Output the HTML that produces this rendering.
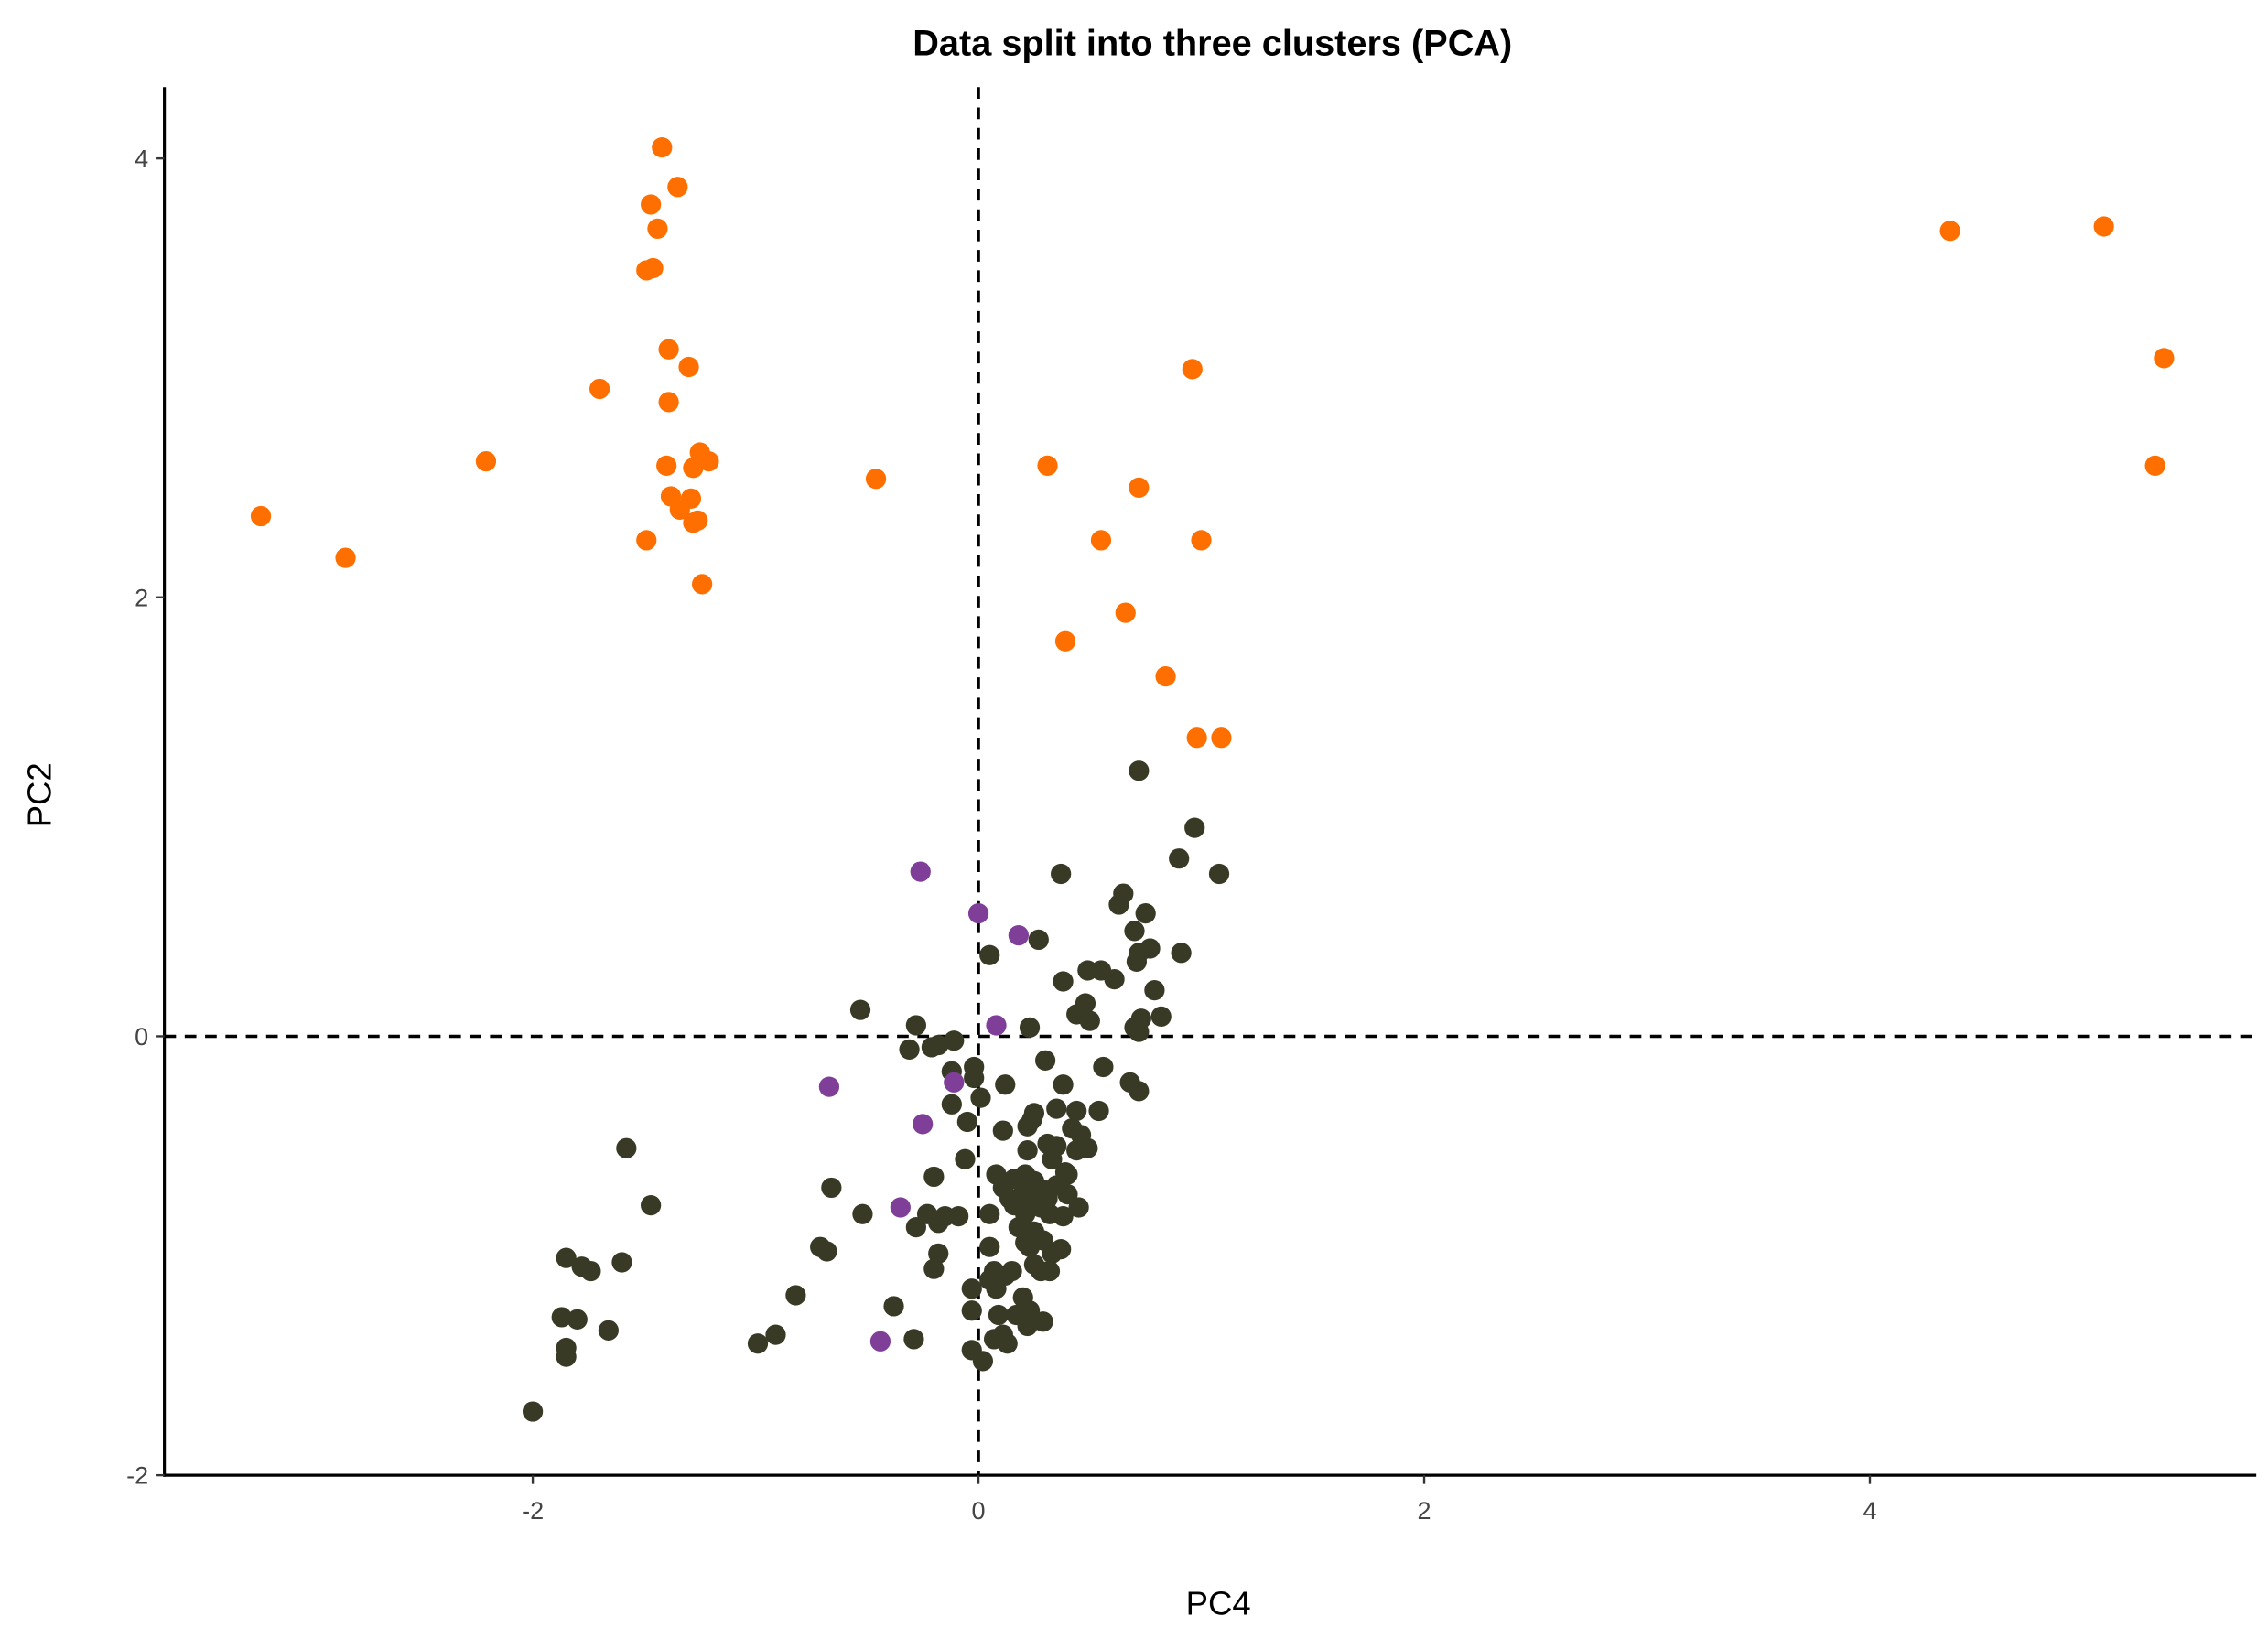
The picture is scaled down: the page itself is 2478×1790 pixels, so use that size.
<!DOCTYPE html>
<html><head><meta charset="utf-8"><style>
html,body{margin:0;padding:0;background:#fff;}
svg{display:block;}
text{font-family:"Liberation Sans",sans-serif;}
</style></head><body>
<svg id="chart" width="2478" height="1790" viewBox="0 0 1560 1127" xmlns="http://www.w3.org/2000/svg">
<rect width="1560" height="1127" fill="#fff"/>
<text x="834" y="38" text-anchor="middle" font-size="25" font-weight="bold">Data split into three clusters (PCA)</text>
<text x="838" y="1111" text-anchor="middle" font-size="23">PC4</text>
<text transform="translate(35,547) rotate(-90)" text-anchor="middle" font-size="23">PC2</text>
<g id="refs"></g><g id="axes"></g><g id="pts"></g>
</svg>
<script>
const xTicks=[-2,0,2,4];
const yTicks=[-2,0,2,4];
const orangeX=[-1.42,-1.35,-1.47,-1.44,-1.49,-1.46,-1.39,-1.30,-1.70,-1.39,-2.21,-1.40,-1.25,-1.21,-1.28,-1.38,-1.29,-1.34,-1.26,-1.28,-1.49,-1.24,-3.22,-2.84,-0.46,0.31,0.72,0.96,0.55,1.00,0.39,0.66,0.84,0.98,1.09,4.36,5.05,5.32,5.28];
const orangeY=[4.05,3.87,3.79,3.68,3.49,3.50,3.13,3.05,2.95,2.89,2.62,2.60,2.66,2.62,2.59,2.46,2.45,2.40,2.35,2.34,2.26,2.06,2.37,2.18,2.54,2.60,2.50,3.04,2.26,2.26,1.80,1.93,1.64,1.36,1.36,3.67,3.69,3.09,2.60];
const purpleX=[-0.26,0,0.18,0.08,-0.67,-0.11,-0.25,-0.35,-0.44];
const purpleY=[0.75,0.56,0.46,0.05,-0.23,-0.21,-0.40,-0.78,-1.39];
const darkX=[0.72,0.97,0.37,1.08,0.90,0.65,0.63,0.75,0.70,0.27,0.05,0.91,0.77,0.72,0.71,0.49,0.55,0.61,0.38,0.79,-0.53,0.48,0.44,0.50,0.82,0.73,0.70,0.72,-0.28,0.23,-0.11,-0.18,-0.21,-0.31,0.30,-0.02,0.56,-0.12,-0.02,0.12,0.38,0.68,0.72,0.01,-0.12,0.25,0.35,0.44,0.54,0.24,0.22,-0.05,0.11,0.42,0.46,0.31,0.35,0.22,0.44,0.49,0.33,-0.06,0.39,0.40,-0.20,0.08,0.16,0.21,0.25,0.29,0.35,-0.66,0.11,0.14,0.31,0.20,0.24,0.40,0.16,0.45,0.28,-0.52,-0.23,-0.15,-0.09,0.05,0.21,0.32,0.38,-0.18,-0.28,0.18,0.25,0.21,0.29,0.23,0.05,0.37,0.33,-0.18,-0.71,-0.68,0.25,0.07,0.15,-0.20,0.32,0.28,0.12,0.05,-0.03,0.08,-0.82,0.20,-0.38,-0.03,0.23,0.09,0.17,0.29,0.22,0.11,-0.29,0.07,0.13,-0.91,-0.99,-0.03,0.02,-1.58,-1.47,-1.85,-1.78,-1.74,-1.60,-1.87,-1.80,-1.66,-1.85,-1.85,-2.00];
const darkY=[1.21,0.95,0.74,0.74,0.81,0.65,0.60,0.56,0.48,0.44,0.37,0.38,0.40,0.38,0.34,0.30,0.30,0.26,0.25,0.21,0.12,0.15,0.10,0.07,0.09,0.08,0.04,0.02,0.05,0.04,-0.02,-0.04,-0.05,-0.06,-0.11,-0.14,-0.14,-0.16,-0.19,-0.22,-0.22,-0.21,-0.25,-0.28,-0.31,-0.35,-0.33,-0.34,-0.34,-0.38,-0.41,-0.39,-0.43,-0.42,-0.45,-0.49,-0.50,-0.52,-0.52,-0.51,-0.56,-0.56,-0.62,-0.63,-0.64,-0.63,-0.65,-0.63,-0.66,-0.70,-0.68,-0.69,-0.69,-0.74,-0.74,-0.72,-0.74,-0.72,-0.77,-0.78,-0.78,-0.81,-0.81,-0.82,-0.82,-0.81,-0.81,-0.81,-0.82,-0.85,-0.87,-0.87,-0.89,-0.94,-0.93,-0.96,-0.96,-0.97,-0.99,-0.99,-0.96,-0.98,-1.04,-1.07,-1.07,-1.06,-1.07,-1.07,-1.09,-1.11,-1.15,-1.15,-1.18,-1.19,-1.23,-1.25,-1.25,-1.27,-1.27,-1.30,-1.32,-1.36,-1.38,-1.38,-1.40,-1.36,-1.40,-1.43,-1.48,-0.51,-0.77,-1.01,-1.05,-1.07,-1.03,-1.28,-1.29,-1.34,-1.42,-1.46,-1.71];

const NS="http://www.w3.org/2000/svg";
const sx=v=>673+v*153.3;
const sy=v=>713-v*151;
function mk(tag,attrs,parent){const e=document.createElementNS(NS,tag);for(const k in attrs)e.setAttribute(k,attrs[k]);parent.appendChild(e);return e;}
const refs=document.getElementById('refs'),axes=document.getElementById('axes'),pts=document.getElementById('pts');
let l=mk('line',{x1:sx(0),x2:sx(0),y1:60,y2:1015,stroke:'#000','stroke-width':2.2,'stroke-dasharray':'8,6'},refs);


l=mk('line',{x1:113,x2:1552,y1:sy(0),y2:sy(0),stroke:'#000','stroke-width':2.2,'stroke-dasharray':'8,6'},refs);


l=mk('line',{x1:113,x2:113,y1:60,y2:1016,stroke:'#000','stroke-width':2},axes);


l=mk('line',{x1:112,x2:1552,y1:1015,y2:1015,stroke:'#000','stroke-width':2},axes);


xTicks.forEach(t=>{
  const tk=mk('line',{x1:sx(t),x2:sx(t),y1:1015,y2:1021,stroke:'#333','stroke-width':1.5},axes);
  
  
  const tx=mk('text',{x:sx(t),y:1045,'text-anchor':'middle','font-size':17,fill:'#444'},axes);
  tx.textContent=t;
  
  
});
yTicks.forEach(t=>{
  const tk=mk('line',{x1:107,x2:113,y1:sy(t),y2:sy(t),stroke:'#333','stroke-width':1.5},axes);
  
  
  const tx=mk('text',{x:102,y:sy(t)+6,'text-anchor':'end','font-size':17,fill:'#444'},axes);
  tx.textContent=t;
  
  
});
function series(xs,ys,color,name){
  xs.forEach((x,i)=>{
    const c=mk('circle',{cx:sx(x),cy:sy(ys[i]),r:7,fill:color},pts);
    
    
  });
}
series(darkX,darkY,'#393A26','cluster-dark-point');
series(purpleX,purpleY,'#7F3F98','cluster-purple-point');
series(orangeX,orangeY,'#FF6F00','cluster-orange-point');
</script>
</body></html>
